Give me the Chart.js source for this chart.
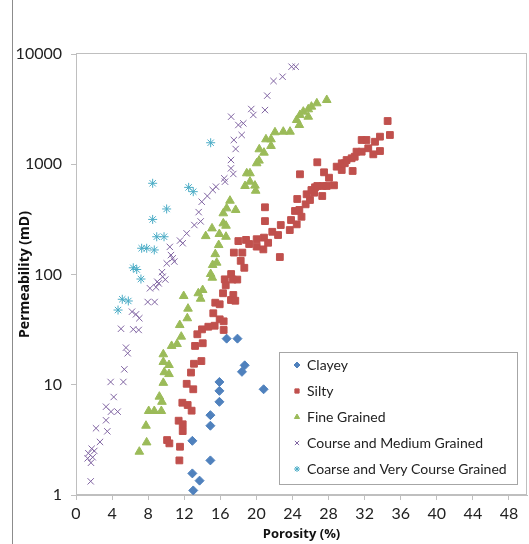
<!DOCTYPE html>
<html>
<head>
<meta charset="utf-8">
<script src="https://cdn.jsdelivr.net/npm/chart.js@4.4.1/dist/chart.umd.min.js"></script>
<style>
  html, body { margin: 0; padding: 0; background: #fff; }
  #wrap { position: relative; width: 529px; height: 544px; }
  #borda { position: absolute; left: 12px; top: 0; width: 1px; height: 544px; background: #8c8c8c; }
  canvas { position: absolute; left: 0; top: 0; }
</style>
</head>
<body>
<div id="wrap"><div id="borda"></div><canvas id="grafico" width="529" height="544"></canvas></div>
<script>
// [porosidade %, permeabilidade mD]
const clayey = [[16.7,26.2],[17.9,26.2],[18.7,15.0],[18.4,13.1],[20.8,9.1],[15.9,10.6],[15.9,8.8],[15.9,7.0],
  [14.9,5.3],[14.9,4.25],[12.9,3.1],[14.9,2.06],[12.9,1.57],[13.7,1.35],[13.0,1.1]]

const silty = [[11.46,2.06],[10.1,3.15],[10.35,2.94],[11.53,2.74],[11.38,4.72],[11.83,4.38],[11.83,3.8],[11.79,6.87],
  [12.38,6.55],[12.82,5.82],[12.27,10.2],[13.0,9.1],[12.75,12.9],[13.08,15.5],[13.9,16.4],[13.2,22.5],[14.05,23.8],
  [13.45,28.7],[13.97,31.8],[14.67,33.6],[15.37,34.3],[15.22,44.5],[15.93,39.2],[16.37,37.6],[16.37,31.4],[15.44,55.5],
  [15.93,53.7],[16.3,67.6],[17.18,58.7],[17.44,65.2],[17.66,57.8],[16.49,90.4],[16.6,79.8],[17.2,101],[17.37,90],
  [17.88,90],[17.5,158],[18.44,158],[18.26,133],[18.66,115],[18.0,201],[18.85,206],[19.2,189],[20.03,209],[20.84,216],
  [20.03,179],[20.77,169],[21.3,194],[20.95,407],[20.95,305],[21.76,244],[22.4,228],[22.7,281],[22.6,144],[23.7,253],
  [23.84,312],[24.47,285],[24.28,377],[24.76,385],[24.53,484],[25.0,334],[25.46,433],[25.94,474],[25.57,534],[26.4,552],
  [26.1,584],[26.5,618],[27.3,515],[26.75,635],[27.35,635],[27.8,635],[28.6,644],[28.05,755],[27.5,845],[26.75,1042],
  [24.83,811],[28.9,951],[29.46,887],[29.46,1021],[29.8,1021],[30.0,1092],[30.56,1133],[30.9,1170],[30.67,869],
  [31.1,1300],[31.67,1300],[31.67,1660],[32.2,1660],[32.4,1396],[32.96,1230],[33.15,1600],[33.7,1779],[33.7,1318],
  [34.55,2467],[34.8,1842]]

const fineGrained = [[7.02,2.47],[7.83,3.0],[7.76,4.25],[8.06,5.78],[8.68,5.78],[9.46,5.78],[9.24,7.8],[9.53,7.0],
  [9.68,10.4],[9.79,13.0],[10.31,12.5],[9.68,16.1],[10.31,15.1],[9.68,18.9],[10.6,22.5],[11.2,23.4],[11.67,27.3],
  [11.5,34.8],[12.34,40.1],[12.42,49],[11.94,63.8],[13.56,67.6],[13.82,60.3],[14.04,72.3],[14.93,101],[15.11,93.5],
  [15.15,122],[15.6,128],[15.44,153],[15.82,185],[14.38,223],[15.08,262],[15.89,233],[16.63,220],[16.33,291],
  [16.63,277],[16.33,359],[16.7,398],[17.07,467],[17.7,385],[18.74,635],[19.29,695],[19.84,640],[19.92,575],
  [18.93,828],[19.29,828],[20.03,1021],[20.29,1079],[20.32,1367],[20.84,1274],[21.06,1683],[21.62,1683],[22.06,1950],
  [21.62,1465],[22.98,1974],[23.73,1974],[24.47,2520],[24.76,2270],[24.83,2800],[25.2,3000],[25.75,3150],[26.1,3330],
  [26.7,3570],[27.8,3828],[25.75,2700]]

const courseMedium = [[1.63,1.33],[1.37,2.39],[1.74,2.63],[2.03,2.51],[1.85,2.2],[1.66,1.96],[1.29,2.15],[2.66,3.03],
  [2.22,4.03],[3.47,3.78],[3.33,4.76],[3.33,6.32],[3.88,5.7],[4.62,5.7],[4.18,7.74],[3.84,10.6],[5.25,10.6],[5.36,13.8],
  [5.54,21.7],[5.73,19.3],[4.99,32.2],[6.35,31.8],[6.95,31.4],[6.21,46],[6.65,43.5],[7.02,40.1],[7.95,56.3],[8.72,56.3],
  [8.2,75],[8.87,76.6],[9.17,83],[9.61,95.5],[9.53,105],[9.9,90],[9.01,86],[10.06,126],[10.72,140],[10.9,131],
  [10.53,150],[10.4,178],[11.53,203],[11.83,192],[12.27,236],[13.12,281],[13.82,303],[13.6,368],[13.94,457],
  [14.56,515],[15.16,584],[15.52,626],[16.44,745],[16.52,695],[17.44,816],[17.18,918],[17.18,1093],[17.7,1375],
  [17.5,1660],[18.37,1842],[18.0,2270],[18.55,2350],[17.2,2700],[19.43,3170],[19.66,2800],[20.95,3100],[21.2,4190],
  [21.9,5690],[22.9,6220],[23.9,7670],[24.36,7670]]

const coarseVeryCourse = [[14.93,1567],[8.5,672],[12.49,617],[13.0,564],[10.05,393],[8.5,316],[8.95,220],[9.76,220],
  [7.28,173],[7.84,173],[8.68,167],[6.35,115],[6.73,111],[7.2,91],[5.13,59.6],[5.8,57.5],[4.66,47.6]]

const seriesNames = ['Clayey', 'Silty', 'Fine Grained', 'Course and Medium Grained', 'Coarse and Very Course Grained']
const xTicks = [0, 4, 8, 12, 16, 20, 24, 28, 32, 36, 40, 44, 48]
const yTicks = [1, 10, 100, 1000, 10000]

const toXY = arr => arr.map(p => ({ x: p[0], y: p[1] }))

// moldura da area do grafico
const moldura = {
  id: 'moldura',
  beforeDatasetsDraw(chart) {
    const { ctx, chartArea: a } = chart
    ctx.save()
    ctx.strokeStyle = '#bfbfbf'
    ctx.lineWidth = 1
    ctx.strokeRect(Math.round(a.left) + 0.5, Math.round(a.top) - 0.5, Math.round(a.width) - 1, Math.round(a.height))
    ctx.restore()
  },
}

// legenda dentro da area do grafico
const legendaInterna = {
  id: 'legendaInterna',
  afterDraw(chart) {
    const { ctx, chartArea: a } = chart
    const x0 = Math.round(a.right) - 248, y0 = Math.round(a.bottom) - 143
    ctx.save()
    ctx.fillStyle = '#fff'
    ctx.fillRect(x0, y0, 238, 132)
    ctx.strokeStyle = '#a6a6a6'
    ctx.lineWidth = 1
    ctx.strokeRect(x0 + 0.5, y0 + 0.5, 238, 132)
    ctx.font = '14px Lato'
    ctx.textBaseline = 'middle'
    chart.data.datasets.forEach((ds, i) => {
      const y = y0 + 13 + i * 26
      ctx.fillStyle = ds.backgroundColor
      ctx.strokeStyle = ds.borderColor
      Chart.helpers.drawPoint(ctx, { pointStyle: ds.pointStyle, radius: 3, borderWidth: 1, rotation: 0 }, x0 + 18, y)
      ctx.fillStyle = '#222'
      ctx.fillText(ds.label, x0 + 28, y)
    })
    ctx.restore()
  },
}

const cores = ['#4F81BD', '#C0504D', '#9BBB59', '#8064A2', '#4BACC6']
const estilos = ['rectRot', 'rect', 'triangle', 'crossRot', 'star']
const raios = [4.5, 4.8, 5, 4.5, 4.5]
const dados = [clayey, silty, fineGrained, courseMedium, coarseVeryCourse]

var ctx = document.getElementById('grafico').getContext('2d')

var grafico = new Chart(ctx, {
  type: 'scatter',
  data: {
    datasets: dados.map((d, i) => ({
      label: seriesNames[i],
      data: toXY(d),
      pointStyle: estilos[i],
      pointRadius: raios[i],
      pointHoverRadius: raios[i],
      backgroundColor: cores[i],
      borderColor: cores[i],
      borderWidth: 1,
      order: 5 - i,
    })),
  },
  options: {
    responsive: false,
    animation: false,
    layout: { autoPadding: false, padding: { top: 54, right: 2, left: 0, bottom: 0 } },
    plugins: {
      legend: { display: false },
      tooltip: { enabled: false },
    },
    scales: {
      x: {
        type: 'linear',
        min: 0,
        max: 50,
        afterFit: s => { s.height = 49 },
        afterBuildTicks: s => { s.ticks = xTicks.map(v => ({ value: v })) },
        ticks: { autoSkip: false, maxRotation: 0, padding: 4, color: '#222', font: { family: 'Lato', size: 16 } },
        grid: { drawOnChartArea: false, drawTicks: true, tickLength: 5, color: '#bfbfbf' },
        border: { color: '#bfbfbf' },
        title: { display: true, text: 'Porosity (%)', color: '#111', font: { family: 'Open Sans', size: 13, weight: 'bold' }, padding: { top: 0, bottom: 2 } },
      },
      y: {
        type: 'logarithmic',
        min: 1,
        max: 10000,
        afterFit: s => { s.width = 76 },
        afterBuildTicks: s => { s.ticks = yTicks.map(v => ({ value: v })) },
        ticks: { autoSkip: false, padding: 9, color: '#222', font: { family: 'Lato', size: 16 }, callback: v => String(v) },
        grid: { drawOnChartArea: false, drawTicks: true, tickLength: 5, color: '#bfbfbf' },
        border: { color: '#bfbfbf' },
        title: { display: true, text: 'Permeability (mD)', color: '#111', font: { family: 'Open Sans', size: 14, weight: 'bold' }, padding: { top: 17, bottom: 0 } },
      },
    },
  },
  plugins: [moldura, legendaInterna],
})
</script>
</body>
</html>
